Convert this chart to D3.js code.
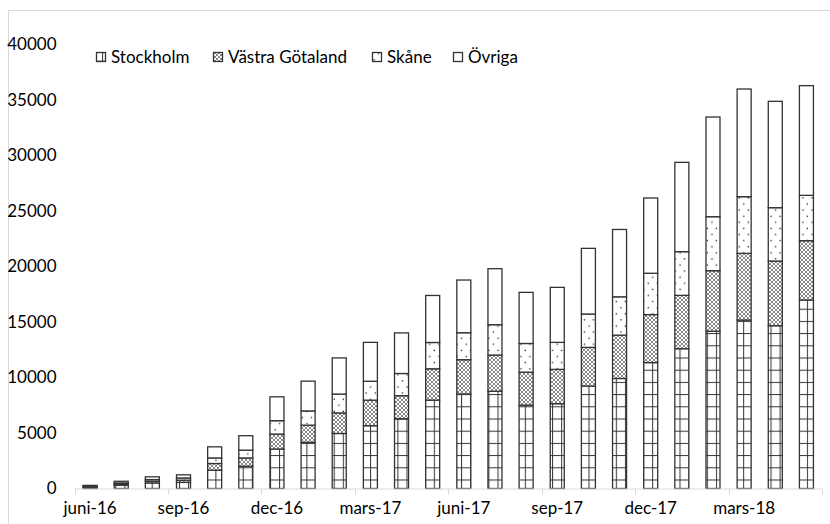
<!DOCTYPE html>
<html>
<head>
<meta charset="utf-8">
<script src="https://cdn.jsdelivr.net/npm/d3@7"></script>
<style>
  html, body { margin: 0; padding: 0; background: #fff; }
  svg { display: block; font-family: Lato, "Open Sans", sans-serif; }
</style>
</head>
<body>
<svg id="chart" width="830" height="524"></svg>
<script>
// Monthly categories, juni 2016 – maj 2018
const months = ["juni-16","juli-16","aug-16","sep-16","okt-16","nov-16","dec-16",
  "jan-17","feb-17","mars-17","april-17","maj-17","juni-17","juli-17","aug-17","sep-17",
  "okt-17","nov-17","dec-17","jan-18","feb-18","mars-18","april-18","maj-18"];

const seriesNames = ["Stockholm", "Västra Götaland", "Skåne", "Övriga"];

const stockholm = [130, 300, 500, 550, 1650, 2000, 3550, 4150, 4950, 5650, 6280, 7950,
  8500, 8750, 7500, 7630, 9220, 9900, 11330, 12580, 14150, 15160, 14650, 16960];
const vastraGotaland = [50, 100, 150, 200, 600, 750, 1350, 1550, 1850, 2300, 2070, 2820,
  3090, 3260, 2970, 3090, 3480, 3900, 4320, 4800, 5450, 6000, 5820, 5340];
const skane = [40, 100, 150, 200, 500, 700, 1200, 1280, 1700, 1700, 2000, 2370,
  2430, 2730, 2580, 2430, 3000, 3450, 3720, 3930, 4860, 5100, 4800, 4080];
const ovriga = [60, 150, 250, 280, 1000, 1300, 2150, 2680, 3250, 3500, 3650, 4230,
  4740, 5040, 4600, 4950, 5910, 6060, 6770, 8040, 8970, 9690, 9570, 9870];

const yTicks = [0, 5000, 10000, 15000, 20000, 25000, 30000, 35000, 40000];
const xTickLabels = ["juni-16","sep-16","dec-16","mars-17","juni-17","sep-17","dec-17","mars-18"];

const rows = months.map((m, i) => ({
  month: m,
  "Stockholm": stockholm[i],
  "Västra Götaland": vastraGotaland[i],
  "Skåne": skane[i],
  "Övriga": ovriga[i]
}));

const svg = d3.select("#chart");
const plot = { left: 74.5, right: 822, top: 44, bottom: 488.5 };

// Outer chart frame (only top and left edges fall inside the canvas)
svg.append("rect")
  .attr("x", 8.5).attr("y", 10.5)
  .attr("width", 840).attr("height", 540)
  .attr("fill", "none").attr("stroke", "#d9d9d9").attr("stroke-width", 1);

// Fill patterns
const defs = svg.append("defs");
const ink = "#333";

const pStock = defs.append("pattern")
  .attr("id", "pat-stockholm").attr("patternUnits", "userSpaceOnUse")
  .attr("x", 6.1).attr("y", 3.7).attr("width", 9.1).attr("height", 12.2);
pStock.append("rect").attr("width", 9.1).attr("height", 12.2).attr("fill", "#fff");
pStock.append("line").attr("x1", 0.5).attr("x2", 0.5).attr("y1", 0).attr("y2", 12.2)
  .attr("stroke", ink).attr("stroke-width", 1);
pStock.append("line").attr("x1", 0).attr("x2", 9.1).attr("y1", 0.5).attr("y2", 0.5)
  .attr("stroke", ink).attr("stroke-width", 1);

const pVG = defs.append("pattern")
  .attr("id", "pat-vg").attr("patternUnits", "userSpaceOnUse")
  .attr("width", 4).attr("height", 4);
pVG.append("rect").attr("width", 4).attr("height", 4).attr("fill", "#fff");
pVG.append("path").attr("d", "M0,2L2,0L4,2L2,4Z")
  .attr("fill", "none").attr("stroke", "#555").attr("stroke-width", 0.7);

const pSkane = defs.append("pattern")
  .attr("id", "pat-skane").attr("patternUnits", "userSpaceOnUse")
  .attr("width", 9.1).attr("height", 12.2);
pSkane.append("rect").attr("width", 9.1).attr("height", 12.2).attr("fill", "#fff");
pSkane.append("rect").attr("x", 1.5).attr("y", 2).attr("width", 1.3).attr("height", 1.3).attr("fill", "#222");
pSkane.append("rect").attr("x", 6).attr("y", 8.2).attr("width", 1.3).attr("height", 1.3).attr("fill", "#222");

const fills = {
  "Stockholm": "url(#pat-stockholm)",
  "Västra Götaland": "url(#pat-vg)",
  "Skåne": "url(#pat-skane)",
  "Övriga": "#fff"
};

// Scales
const x = d3.scaleBand()
  .domain(months)
  .range([plot.left, plot.right])
  .paddingInner(0.55)
  .paddingOuter(0.275);

const y = d3.scaleLinear()
  .domain([0, 40000])
  .range([plot.bottom, plot.top]);

// Stacked bars
const stacked = d3.stack().keys(seriesNames)(rows);

svg.append("g").selectAll("g")
  .data(stacked)
  .join("g")
    .attr("fill", d => fills[d.key])
  .selectAll("rect")
  .data(d => d)
  .join("rect")
    .attr("x", d => x(d.data.month))
    .attr("y", d => y(d[1]))
    .attr("width", x.bandwidth())
    .attr("height", d => y(d[0]) - y(d[1]))
    .attr("stroke", ink)
    .attr("stroke-width", 1.3);

// Y axis (labels only)
const yAxis = svg.append("g")
  .attr("transform", `translate(${plot.left},0)`)
  .call(d3.axisLeft(y).tickValues(yTicks).tickSize(0).tickPadding(18).tickFormat(d3.format("d")));
yAxis.select(".domain").remove();
yAxis.selectAll("text").attr("font-size", 17).attr("fill", "#000").attr("font-family", "Lato, sans-serif");

// X axis: baseline, boundary ticks every third month, labels centred on bars
const gap = (x.step() - x.bandwidth()) / 2;
const boundaries = months.filter((m, i) => i % 3 === 0).map(m => x(m) - gap).concat([plot.right]);

const xg = svg.append("g");
xg.append("line")
  .attr("x1", plot.left).attr("x2", plot.right)
  .attr("y1", plot.bottom + 0.5).attr("y2", plot.bottom + 0.5)
  .attr("stroke", "#d9d9d9").attr("stroke-width", 1.2);
xg.selectAll("line.tick")
  .data(boundaries)
  .join("line")
    .attr("class", "tick")
    .attr("x1", d => Math.round(d) + 0.5).attr("x2", d => Math.round(d) + 0.5)
    .attr("y1", plot.bottom + 0.5).attr("y2", plot.bottom + 6)
    .attr("stroke", "#d9d9d9").attr("stroke-width", 1);

const xAxis = svg.append("g")
  .attr("transform", `translate(0,${plot.bottom})`)
  .call(d3.axisBottom(x).tickValues(xTickLabels).tickSize(0).tickPadding(13));
xAxis.select(".domain").remove();
xAxis.selectAll("text").attr("font-size", 17).attr("fill", "#000").attr("font-family", "Lato, sans-serif");

// Legend
const legendX = [96, 213, 372, 453];
const legend = svg.append("g").attr("transform", "translate(0,57)");
const items = legend.selectAll("g")
  .data(seriesNames)
  .join("g")
    .attr("transform", (d, i) => `translate(${legendX[i]},0)`);
items.append("rect")
  .attr("x", 0.5).attr("y", -4.5)
  .attr("width", 9).attr("height", 9)
  .attr("fill", d => fills[d])
  .attr("stroke", ink).attr("stroke-width", 1.3);
items.append("text")
  .attr("x", 15).attr("y", 6)
  .attr("font-size", 17)
  .attr("fill", "#000")
  .text(d => d);
</script>
</body>
</html>
